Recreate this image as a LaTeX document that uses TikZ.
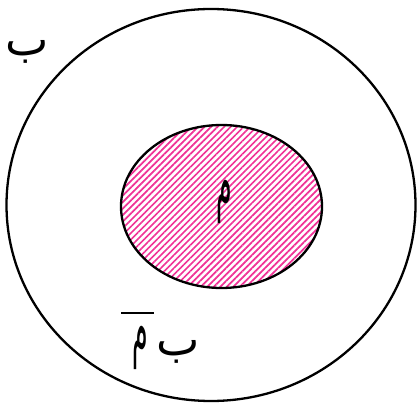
\documentclass[tikz,border=0pt]{standalone}
\usepackage{fontspec}
\usetikzlibrary{patterns.meta}
\TeXXeTstate=1
\newfontfamily\arabicfont[Script=Arabic]{DejaVu Sans}
\definecolor{hatchPink}{RGB}{240, 50, 150}

\begin{document}
\begin{tikzpicture}[
  x=1pt, y=-1pt,
  outerSet/.style={draw=black, line width=2.3pt},
  innerSet/.style={
    draw=black,
    line width=2.3pt,
    pattern={Lines[angle=45, distance=4.6pt, line width=1.7pt]},
    pattern color=hatchPink
  },
  lbl/.style={font=\arabicfont\fontsize{46}{50}\selectfont, inner sep=0pt},
  meem/.style={lbl, yscale=1.55, xscale=0.55},
  bar/.style={draw=black, line width=1.6pt}
]
  \useasboundingbox (0,0) rectangle (417,403);

  % ── Ensembles ────────────────────────────────────────────────
  \draw[outerSet] (211,205) ellipse [x radius=204.5, y radius=196];
  \draw[innerSet] (221.5,206.5) ellipse [x radius=100.5, y radius=81.5];

  % ── Étiquettes ──────────────────────────────────────────────
  \node[lbl]  (setB)  at (27,52)   {\beginR ب\endR};
  \node[meem] (setA)  at (224,202) {\beginR م\endR};
  \node[meem] (compA) at (140,348) {\beginR م\endR};
  \node[lbl]  (compB) at (178,352) {\beginR ب\endR};

  \coordinate (barL) at (121,313);
  \coordinate (barR) at (154,313);
  \draw[bar] (barL) -- (barR);

\end{tikzpicture}
\end{document}
